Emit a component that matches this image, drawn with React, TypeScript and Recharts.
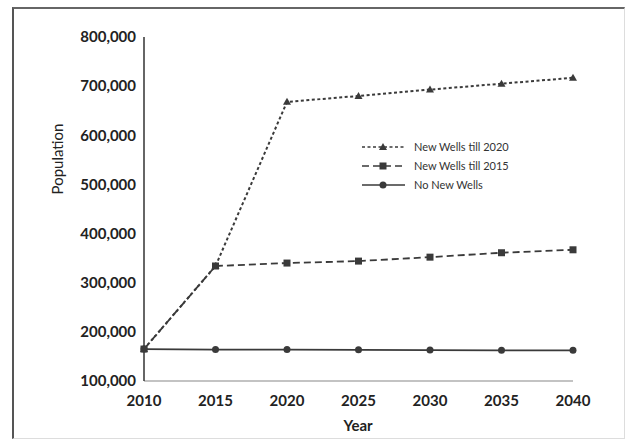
import { LineChart, Line, XAxis, YAxis, Legend } from "recharts";

const years = [2010, 2015, 2020, 2025, 2030, 2035, 2040];
const wells2020 = [165000, 334000, 668000, 680000, 693000, 705000, 717000];
const wells2015 = [165000, 334000, 340000, 344000, 352000, 361000, 367000];
const noWells = [165000, 164000, 164000, 163500, 163000, 162500, 162500];
const yTicks = [100000, 200000, 300000, 400000, 500000, 600000, 700000, 800000];

const data = years.map((year, i) => ({
  year,
  w2020: wells2020[i],
  w2015: wells2015[i],
  none: noWells[i],
}));

const INK = "#3a3a3a";
const FONT = "Lato, 'Open Sans', sans-serif";

const Triangle = ({ cx, cy }: any) =>
  cx == null ? null : <path d={`M${cx},${cy - 4} L${cx + 4},${cy + 3} L${cx - 4},${cy + 3} Z`} fill={INK} />;
const Square = ({ cx, cy }: any) =>
  cx == null ? null : <rect x={cx - 3.5} y={cy - 3.5} width={7} height={7} fill={INK} />;
const Circle = ({ cx, cy }: any) => (cx == null ? null : <circle cx={cx} cy={cy} r={3.5} fill={INK} />);

const legendRows = [
  { label: "New Wells till 2020", dash: "3 2.5", Marker: Triangle },
  { label: "New Wells till 2015", dash: "7 4", Marker: Square },
  { label: "No New Wells", dash: undefined, Marker: Circle },
];

function LegendBox() {
  return (
    <div style={{ fontFamily: FONT, fontSize: 11, color: "#333" }}>
      {legendRows.map((r) => (
        <div key={r.label} style={{ display: "flex", alignItems: "center", height: 19 }}>
          <svg width={50} height={10} style={{ marginRight: 4 }}>
            <line x1={2} y1={5} x2={45} y2={5} stroke={INK} strokeWidth={1.6} strokeDasharray={r.dash} />
            <r.Marker cx={23} cy={5} />
          </svg>
          <span>{r.label}</span>
        </div>
      ))}
    </div>
  );
}

const fmt = (v: number) => v.toLocaleString("en-US");

export default function App() {
  return (
    <div style={{ position: "absolute", left: 0, top: 0, width: 628, height: 439, background: "#fff" }}>
      <div
        style={{
          position: "absolute",
          left: 12,
          top: 7,
          width: 610,
          height: 429,
          borderLeft: "2px solid #555",
          borderTop: "2px solid #666",
          borderRight: "1px solid #ddd",
          borderBottom: "1px solid #ddd",
        }}
      />
      <LineChart width={628} height={439} data={data} margin={{ top: 37, right: 55, bottom: 0, left: 0 }}>
        <XAxis
          dataKey="year"
          type="number"
          domain={[2010, 2040]}
          ticks={years}
          height={58}
          tickLine={false}
          tickSize={0}
          tickMargin={14}
          axisLine={{ stroke: "#888", strokeWidth: 1.2 }}
          tick={{ fontSize: 15, fill: "#222", fontFamily: FONT, fontWeight: 700 }}
          label={{
            content: () => (
              <text x={358} y={431} textAnchor="middle" fontSize={15} fontWeight={700} fill="#222" fontFamily={FONT}>
                Year
              </text>
            ),
          }}
        />
        <YAxis
          type="number"
          domain={[100000, 800000]}
          ticks={yTicks}
          width={144}
          tickLine={false}
          tickSize={0}
          tickMargin={8}
          tickFormatter={fmt}
          axisLine={{ stroke: "#333", strokeWidth: 1.5 }}
          tick={{ fontSize: 15, fill: "#222", fontFamily: FONT, fontWeight: 700 }}
          label={{
            content: () => (
              <text
                x={63}
                y={159}
                transform="rotate(-90 63 159)"
                textAnchor="middle"
                fontSize={15}
                fill="#222"
                fontFamily={FONT}
              >
                Population
              </text>
            ),
          }}
        />
        <Legend
          layout="vertical"
          align="center"
          verticalAlign="middle"
          content={() => <LegendBox />}
          wrapperStyle={{ left: 360, top: 137, width: 200 }}
        />
        <Line
          dataKey="none"
          stroke={INK}
          strokeWidth={1.8}
          dot={<Circle />}
          activeDot={false}
          isAnimationActive={false}
        />
        <Line
          dataKey="w2020"
          stroke={INK}
          strokeWidth={2}
          strokeDasharray="3 2.5"
          dot={<Triangle />}
          activeDot={false}
          isAnimationActive={false}
        />
        <Line
          dataKey="w2015"
          stroke={INK}
          strokeWidth={1.8}
          strokeDasharray="7 4"
          dot={<Square />}
          activeDot={false}
          isAnimationActive={false}
        />
      </LineChart>
    </div>
  );
}
